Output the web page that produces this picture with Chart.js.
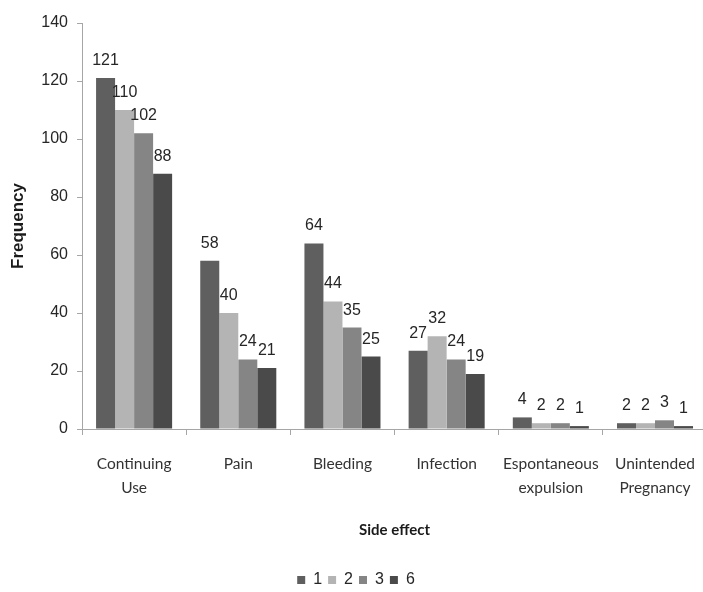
<!DOCTYPE html>
<html><head><meta charset="utf-8">
<script src="https://cdn.jsdelivr.net/npm/chart.js@4/dist/chart.umd.min.js"></script>
<style>
html,body{margin:0;padding:0;overflow:hidden;background:#fff;width:703px;height:592px}
#wrap{width:712px;height:598px}
</style></head>
<body><div id="wrap"><canvas id="c" width="712" height="598"></canvas></div>
<script>
// ---- data ----
const categories = [["Continuing","Use"],"Pain","Bleeding","Infection",["Espontaneous","expulsion"],["Unintended","Pregnancy"]];
const seriesNames = ["1","2","3","6"];
const series1 = [121,58,64,27,4,2];
const series2 = [110,40,44,32,2,2];
const series3 = [102,24,35,24,2,3];
const series6 = [88,21,25,19,1,1];
const yMin = 0, yMax = 140, yStep = 20;
const xTitle = "Side effect";
const yTitle = "Frequency";

const seriesColors = ["#5f5f5f","#b4b4b4","#858585","#4a4a4a"];
const allSeries = [series1,series2,series3,series6];

const valueLabels = {
  id:'valueLabels',
  afterDatasetsDraw(chart){
    const ctx = chart.ctx;
    ctx.save();
    ctx.font = '16px "Liberation Sans", Arial, sans-serif';
    ctx.fillStyle = '#262626';
    ctx.textAlign = 'center';
    ctx.textBaseline = 'alphabetic';
    chart.data.datasets.forEach((ds,i)=>{
      chart.getDatasetMeta(i).data.forEach((el,j)=>{
        ctx.fillText(String(ds.data[j]), el.x, el.y - 13);
      });
    });
    ctx.restore();
  }
};

new Chart(document.getElementById('c'), {
  type:'bar',
  data:{
    labels: categories,
    datasets: allSeries.map((d,i)=>({
      label: seriesNames[i],
      data: d,
      backgroundColor: seriesColors[i],
      borderWidth: 0,
      categoryPercentage: 0.73,
      barPercentage: 1.0
    }))
  },
  options:{
    responsive:false,
    animation:false,
    devicePixelRatio:1,
    layout:{padding:{top:23,left:0,right:0,bottom:0}},
    plugins:{
      legend:{
        position:'bottom',
        labels:{
          boxWidth:8, boxHeight:8, padding:6,
          color:'#262626',
          font:{family:'"Liberation Sans", Arial, sans-serif', size:16}
        }
      },
      tooltip:{enabled:false}
    },
    scales:{
      x:{
        afterFit(s){ s.height = 137; },
        grid:{offset:true, drawOnChartArea:false, drawTicks:true, tickLength:6, color:'#a6a6a6'},
        border:{color:'#a6a6a6', width:1},
        ticks:{
          padding:17, color:'#333333', maxRotation:0, autoSkip:false,
          font:{family:'Lato, "Liberation Sans", sans-serif', size:15.5, lineHeight:1.55}
        },
        title:{
          display:true, text:xTitle, color:'#1a1a1a',
          font:{family:'Lato, "Liberation Sans", sans-serif', size:15, weight:'bold', lineHeight:1.2},
          padding:{top:0,bottom:27}
        }
      },
      y:{
        min:yMin, max:yMax,
        afterFit(s){ s.width = 82; },
        grid:{drawOnChartArea:false, drawTicks:true, tickLength:5, color:'#a6a6a6'},
        border:{color:'#a6a6a6', width:1},
        ticks:{
          stepSize:yStep, padding:9, color:'#262626',
          font:{family:'"Liberation Sans", Arial, sans-serif', size:16}
        },
        title:{
          display:true, text:yTitle, color:'#1a1a1a',
          font:{family:'"Liberation Sans", Arial, sans-serif', size:17, weight:'bold', lineHeight:1.2},
          padding:{top:8,bottom:0}
        }
      }
    }
  },
  plugins:[valueLabels]
});
</script>
</body></html>
